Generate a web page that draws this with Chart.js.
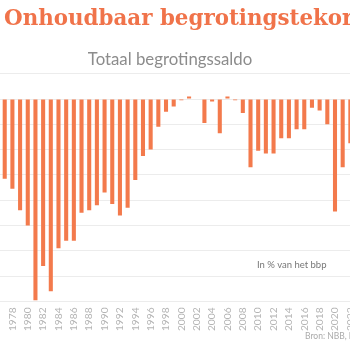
<!DOCTYPE html>
<html>
<head>
<meta charset="utf-8">
<script src="https://cdn.jsdelivr.net/npm/chart.js@4/dist/chart.umd.min.js"></script>
<style>
  html, body { margin: 0; padding: 0; background: #fff; }
  #frame { position: relative; width: 350px; height: 350px; overflow: hidden; }
  #titel { position: absolute; left: 4px; top: 5px; white-space: nowrap;
           font: bold 21.4px "DejaVu Serif", serif; color: #f0734a; }
  #subtitel { position: absolute; left: 0; width: 340px; top: 48px; text-align: center;
              font: 16.8px Lato, sans-serif; color: #8c8c8c; }
  #eenheid { position: absolute; left: 257px; top: 259px; white-space: nowrap;
             font: 9.5px Lato, sans-serif; color: #777; }
  #bron { position: absolute; left: 305px; top: 331px; white-space: nowrap;
          font: 8.5px Lato, sans-serif; color: #aaa; }
  #wrap { position: absolute; left: -20px; top: 0; width: 390px; height: 350px; }
</style>
</head>
<body>
<div id="frame">
  <div id="wrap"><canvas id="saldoChart"></canvas></div>
  <div id="titel">Onhoudbaar begrotingstekort</div>
  <div id="subtitel">Totaal begrotingssaldo</div>
  <div id="eenheid">In % van het bbp</div>
  <div id="bron">Bron: NBB, Macrobond</div>
</div>
<script>
// jaren (categorieën)
const jaren = [];
for (let j = 1976; j <= 2022; j++) jaren.push(String(j));

const saldo = [
  -5.4, -6.3, -7.1, -8.8, -10.0, -15.9, -13.2, -15.2, -11.8, -11.2,
  -11.2, -9.0, -8.8, -8.4, -7.4, -8.3, -9.2, -8.6, -6.4, -4.5,
  -4.0, -2.2, -1.0, -0.6, -0.1, 0.2, 0.0, -1.9, -0.2, -2.7,
  0.2, -0.1, -1.1, -5.4, -4.1, -4.3, -4.3, -3.1, -3.1, -2.4,
  -2.4, -0.7, -0.9, -2.0, -8.9, -5.4, -3.5
];

// y-as
const yMin = -16;
const yMax = 2;
const yStap = 2;

const balkKleur = '#f37a4c';

new Chart(document.getElementById('saldoChart'), {
  type: 'bar',
  data: {
    labels: jaren,
    datasets: [{
      label: 'Totaal begrotingssaldo',
      data: saldo,
      backgroundColor: balkKleur,
      borderWidth: 0,
      barPercentage: 0.53,
      categoryPercentage: 1
    }]
  },
  options: {
    responsive: true,
    maintainAspectRatio: false,
    animation: false,
    layout: { padding: { top: 73.7, left: 13.2, right: 15.8, bottom: 0 } },
    plugins: {
      legend: { display: false },
      tooltip: { enabled: false }
    },
    scales: {
      x: {
        grid: { display: false, drawTicks: false },
        border: { display: false },
        afterFit: (scale) => { scale.height = 48.6; },
        ticks: {
          autoSkip: false,
          minRotation: 90,
          maxRotation: 90,
          padding: 6,
          color: '#b3b3b3',
          font: { family: 'Lato', size: 10.2 },
          callback: function (value) {
            const jaar = this.getLabelForValue(value);
            return Number(jaar) % 2 === 0 ? jaar : '';
          }
        }
      },
      y: {
        min: yMin,
        max: yMax,
        ticks: { display: false, stepSize: yStap },
        grid: { color: '#ececec', lineWidth: 1, drawTicks: false },
        border: { display: false }
      }
    }
  }
});
</script>
</body>
</html>
